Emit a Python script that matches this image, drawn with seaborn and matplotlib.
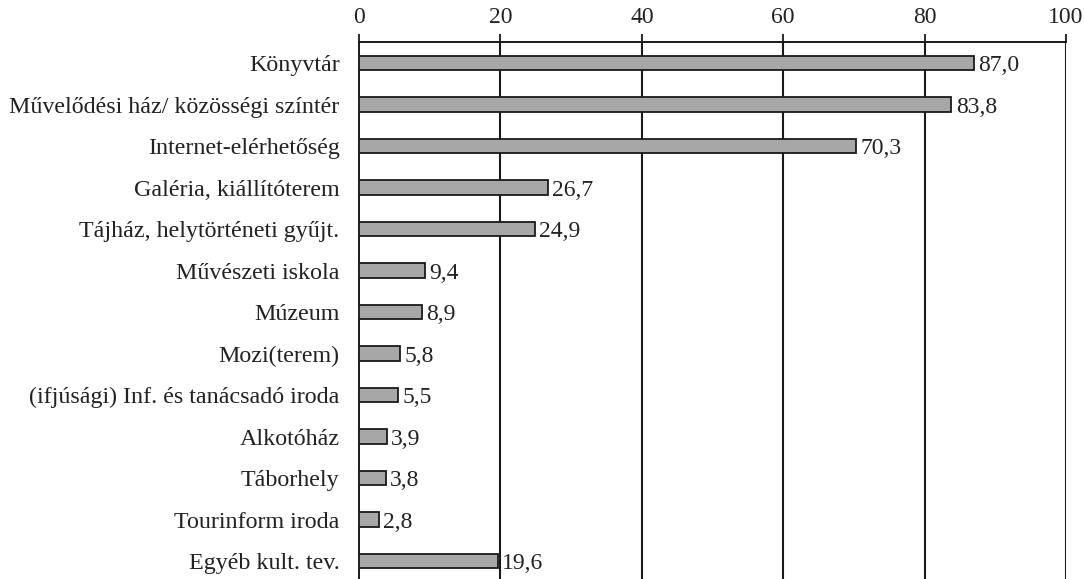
import numpy as np
import pandas as pd
import seaborn as sns
import matplotlib.pyplot as plt
from matplotlib.ticker import FixedLocator

categories = [
    "Könyvtár",
    "Művelődési ház/ közösségi színtér",
    "Internet-elérhetőség",
    "Galéria, kiállítóterem",
    "Tájház, helytörténeti gyűjt.",
    "Művészeti iskola",
    "Múzeum",
    "Mozi(terem)",
    "(ifjúsági) Inf. és tanácsadó iroda",
    "Alkotóház",
    "Táborhely",
    "Tourinform iroda",
    "Egyéb kult. tev.",
]
values = [87.0, 83.8, 70.3, 26.7, 24.9, 9.4, 8.9, 5.8, 5.5, 3.9, 3.8, 2.8, 19.6]
x_ticks = [0, 20, 40, 60, 80, 100]

sns.set_style("white")
plt.rcParams["font.family"] = ["Liberation Serif", "DejaVu Serif"]

df = pd.DataFrame({"cat": categories, "val": values})

fig = plt.figure(figsize=(10.84, 5.79), dpi=100)
ax = fig.add_axes([0.3312, -0.0048, 0.6522, 0.9318])

sns.barplot(data=df, y="cat", x="val", orient="h", color="#a7a7a7",
            saturation=1, edgecolor="#1a1a1a", linewidth=1.3, width=0.35, ax=ax,
            zorder=3)

ax.set_xlim(0, 100)
ax.set_ylim(len(categories) - 0.5, -0.5)
ax.set_xlabel("")
ax.set_ylabel("")

# x axis on top
ax.xaxis.tick_top()
ax.set_xticks(x_ticks)
ax.tick_params(axis="x", direction="out", length=6, width=1.3, color="#1a1a1a",
               labelsize=17, labelcolor="#222222", pad=4)
for x in x_ticks[1:]:
    ax.axvline(x, color="#1a1a1a", linewidth=1.5, zorder=1)

# y ticks between categories
ax.tick_params(axis="y", which="major", length=0, labelsize=17.3,
               labelcolor="#222222", pad=14)
ax.yaxis.set_minor_locator(FixedLocator(np.arange(0.5, len(categories) - 0.5, 1)))
ax.tick_params(axis="y", which="minor", direction="out", length=5, width=1.3,
               color="#1a1a1a")

for side in ["right", "bottom"]:
    ax.spines[side].set_visible(False)
for side in ["top", "left"]:
    ax.spines[side].set_color("#1a1a1a")
    ax.spines[side].set_linewidth(1.4)

labels = [f"{v:.1f}".replace(".", ",") for v in values]
texts = ax.bar_label(ax.containers[0], labels=labels, padding=3, fontsize=17,
                     color="#222222")
for t in texts:
    t.set_verticalalignment("center_baseline")

fig.savefig("out.png", dpi=100)
